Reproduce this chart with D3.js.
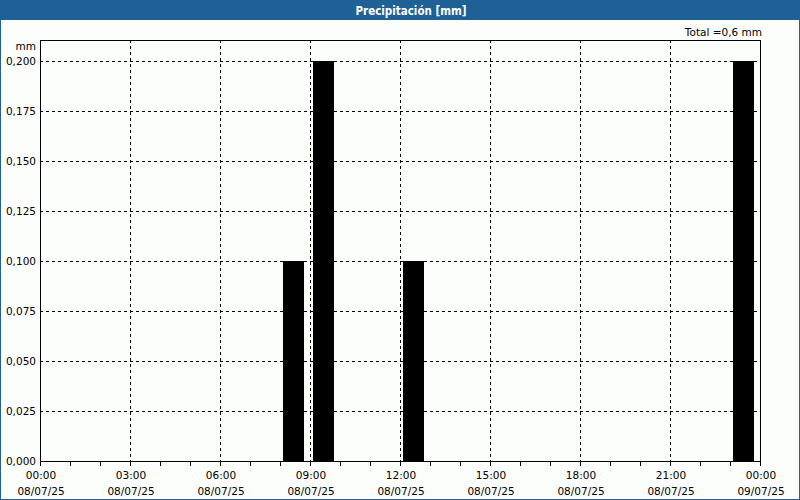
<!DOCTYPE html>
<html><head><meta charset="utf-8">
<script src="https://cdn.jsdelivr.net/npm/d3@7"></script>
<style>body{margin:0;background:#fff}svg{display:block}</style>
</head><body>
<script>
const title = "Precipitación [mm]";
const totalLabel = "Total =0,6 mm";
const unitLabel = "mm";
const barHours = [8, 9, 12, 23];
const barValues = [0.1, 0.2, 0.1, 0.2];
const yTicks = [0, 0.025, 0.05, 0.075, 0.1, 0.125, 0.15, 0.175, 0.2];
const xTickHours = [0, 3, 6, 9, 12, 15, 18, 21, 24];
const xTickTimes = ["00:00","03:00","06:00","09:00","12:00","15:00","18:00","21:00","00:00"];
const xTickDates = ["08/07/25","08/07/25","08/07/25","08/07/25","08/07/25","08/07/25","08/07/25","08/07/25","09/07/25"];

(function () {
const W = 800, H = 500;
const pL = 40, pR = 760, pT = 40, pB = 461;
const font = "Tahoma, 'DejaVu Sans', Verdana, sans-serif";
const blue = "#1f6096";

const svg = d3.select("body").append("svg").attr("width", W).attr("height", H);
svg.append("rect").attr("width", W).attr("height", H).attr("fill", "#fcfefc");
svg.append("rect").attr("x", 0.5).attr("y", 0.5).attr("width", W - 1).attr("height", H - 1)
  .attr("fill", "none").attr("stroke", blue).attr("stroke-width", 1);
svg.append("rect").attr("x", 0).attr("y", 0).attr("width", W).attr("height", 20).attr("fill", blue);
svg.append("text").attr("x", 411).attr("y", 14.5).attr("text-anchor", "middle")
  .attr("fill", "#fff").attr("font-family", "'DejaVu Sans Condensed', 'DejaVu Sans', sans-serif")
  .attr("font-weight", "bold").attr("font-size", 11.5).text(title);

const x = d3.scaleLinear().domain([0, 24]).range([pL, pR]);
const y = d3.scaleLinear().domain([0, 0.2]).range([pB, 61]);

svg.append("g").selectAll("line").data(yTicks.filter(d => d > 0)).join("line")
  .attr("x1", pL).attr("x2", pR)
  .attr("y1", d => Math.round(y(d)) + 0.5).attr("y2", d => Math.round(y(d)) + 0.5)
  .attr("stroke", "#000").attr("stroke-dasharray", "3,3");
svg.append("g").selectAll("line").data(xTickHours.filter(d => d > 0 && d < 24)).join("line")
  .attr("x1", d => Math.round(x(d)) + 0.5).attr("x2", d => Math.round(x(d)) + 0.5)
  .attr("y1", pT).attr("y2", pB)
  .attr("stroke", "#000").attr("stroke-dasharray", "3,3");

svg.append("g").selectAll("rect").data(barHours).join("rect")
  .attr("x", d => x(d) + 3)
  .attr("width", d => (x(d + 1) - x(d)) * 0.7)
  .attr("y", (d, i) => y(barValues[i]))
  .attr("height", (d, i) => y(0) - y(barValues[i]))
  .attr("fill", "#000");

svg.append("rect").attr("x", pL + 0.5).attr("y", pT + 0.5)
  .attr("width", pR - pL).attr("height", pB - pT)
  .attr("fill", "none").attr("stroke", "#000");

svg.append("g").selectAll("line").data(d3.range(0, 25)).join("line")
  .attr("x1", d => Math.round(x(d)) + 0.5).attr("x2", d => Math.round(x(d)) + 0.5)
  .attr("y1", pB).attr("y2", pB + 5).attr("stroke", "#000");

const fs = 10.5;
const xl = svg.append("g").attr("font-family", font).attr("font-size", fs).attr("fill", "#000").attr("text-anchor", "middle");
xTickHours.forEach((h, i) => {
  xl.append("text").attr("x", x(h) + 1).attr("y", 479).text(xTickTimes[i]);
  xl.append("text").attr("x", x(h) + 1).attr("y", 495).text(xTickDates[i]);
});
const fmt = d => d3.format(".3f")(d).replace(".", ",");
svg.append("g").attr("font-family", font).attr("font-size", fs).attr("text-anchor", "end")
  .selectAll("text").data(yTicks).join("text")
  .attr("x", 36).attr("y", d => y(d) + 4).text(fmt);
svg.append("text").attr("x", 36).attr("y", 50).attr("text-anchor", "end")
  .attr("font-family", font).attr("font-size", fs).text(unitLabel);
svg.append("text").attr("x", 762).attr("y", 36).attr("text-anchor", "end")
  .attr("font-family", font).attr("font-size", fs).text(totalLabel);
})();
</script>
</body></html>
